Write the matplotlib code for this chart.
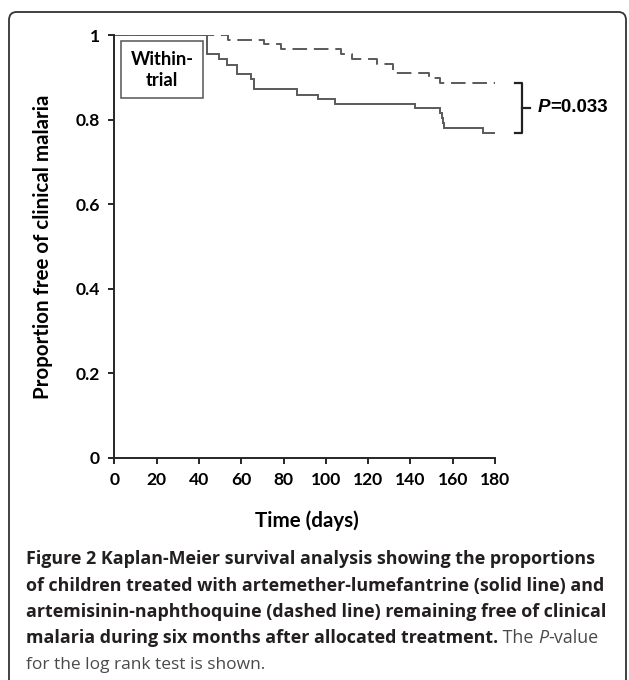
import matplotlib
matplotlib.use("Agg")
import matplotlib.pyplot as plt
from matplotlib.patches import FancyBboxPatch, Rectangle
from matplotlib.lines import Line2D

# ---------------- data ----------------
al_days = [0, 44, 49.5, 53.5, 57.8, 64.5, 66, 86.2, 96.3, 104.2, 142.2, 154.2, 154.8, 155.4, 156.1, 174.3, 180]
al_surv = [1.0, 0.955, 0.944, 0.930, 0.907, 0.895, 0.873, 0.859, 0.848, 0.837, 0.827, 0.815, 0.803, 0.791, 0.780, 0.769, 0.769]

an_days = [0, 53.6, 70.8, 78.6, 107.4, 112.5, 124.3, 132.0, 149.0, 154.2, 180]
an_surv = [1.0, 0.988, 0.978, 0.966, 0.955, 0.943, 0.932, 0.909, 0.898, 0.886, 0.886]

x_ticks = [0, 20, 40, 60, 80, 100, 120, 140, 160, 180]
y_ticks = [0, 0.2, 0.4, 0.6, 0.8, 1]
y_tick_labels = ["0", "0.2", "0.4", "0.6", "0.8", "1"]
p_value_text = "=0.033"
box_text = "Within-\ntrial"
x_label = "Time (days)"
y_label = "Proportion free of clinical malaria"

caption_bold = [
    "Figure 2 Kaplan-Meier survival analysis showing the proportions",
    "of children treated with artemether-lumefantrine (solid line) and",
    "artemisinin-naphthoquine (dashed line) remaining free of clinical",
    "malaria during six months after allocated treatment.",
]
caption_regular_line5 = "for the log rank test is shown."

# ---------------- figure ----------------
W, H = 629, 680
fig = plt.figure(figsize=(W / 100, H / 100), dpi=100)
fig.patch.set_facecolor("white")

AXFONT = "Lato"
CAPFONT = "Open Sans"
dark = "#262626"
curve = "#5a5a5a"

x0, x1 = 114.3, 495.0
y0, y1 = 35.0, 458.0
ax = fig.add_axes([x0 / W, 1 - y1 / H, (x1 - x0) / W, (y1 - y0) / H])
ax.set_xlim(0, 180)
ax.set_ylim(0, 1)

ax.step(al_days, al_surv, where="post", color=curve, lw=1.4, solid_joinstyle="miter")
ax.step(an_days, an_surv, where="post", color=curve, lw=1.4, linestyle=(0, (7.5, 3.5)))

for s in ["top", "right"]:
    ax.spines[s].set_visible(False)
for s in ["left", "bottom"]:
    ax.spines[s].set_color(dark)
    ax.spines[s].set_linewidth(1.4)

ax.set_xticks(x_ticks)
ax.set_xticklabels([str(v) for v in x_ticks])
ax.set_yticks(y_ticks)
ax.set_yticklabels(y_tick_labels)
ax.tick_params(axis="both", direction="out", length=4.5, width=1.4, color=dark,
               labelsize=12.6, labelcolor="black")
ax.tick_params(axis="y", pad=6)
ax.tick_params(axis="x", pad=5.5)
for lab in ax.get_xticklabels() + ax.get_yticklabels():
    lab.set_fontfamily(AXFONT)
    lab.set_fontweight("bold")

ax.set_xlabel(x_label, fontfamily=AXFONT, fontweight="bold", fontsize=14.8)
ax.set_ylabel(y_label, fontfamily=AXFONT, fontweight="bold", fontsize=14.8)
ax.xaxis.set_label_coords((306.5 - x0) / (x1 - x0), -(521 - y1) / (y1 - y0))
ax.xaxis.label.set_verticalalignment("center")
ax.yaxis.set_label_coords((43 - x0) / (x1 - x0), 0.5)
ax.yaxis.label.set_verticalalignment("center")

# Within-trial box
bx0, bx1, by0, by1 = 121, 202.7, 41, 98.3
ax.add_patch(Rectangle(((bx0 - x0) / (x1 - x0), 1 - (by1 - y0) / (y1 - y0)),
                       (bx1 - bx0) / (x1 - x0), (by1 - by0) / (y1 - y0),
                       transform=ax.transAxes, fill=True, fc="white", ec="#555555", lw=1.1))
ax.text(((bx0 + bx1) / 2 - x0) / (x1 - x0), 1 - (70 - y0) / (y1 - y0), box_text,
        transform=ax.transAxes, ha="center", va="center", fontfamily=AXFONT,
        fontweight="bold", fontsize=13.2, linespacing=1.3, color="black")

# bracket with P-value (data coordinates, outside axes)
top_v, bot_v = an_surv[-1], al_surv[-1]
mid_v = (top_v + bot_v) / 2
bxl, bxr, bxt = 189.3, 192.8, 196.5
ax.add_line(Line2D([bxl, bxr, bxr, bxl], [top_v, top_v, bot_v, bot_v], color="#222222",
                   lw=1.6, clip_on=False, solid_joinstyle="round"))
ax.add_line(Line2D([bxr, bxt], [mid_v, mid_v], color="#222222", lw=1.6, clip_on=False))
ptxt = ax.text(200.2, mid_v, "P", ha="left", va="center", fontfamily="Liberation Sans",
               fontweight="bold", fontstyle="italic", fontsize=13.5, color="black", clip_on=False)
ax.annotate(p_value_text, xy=(1, 0), xycoords=ptxt, ha="left", va="bottom",
            fontfamily="Liberation Sans", fontweight="bold", fontsize=13.5, color="black",
            annotation_clip=False)

# frame around figure (bottom cut off)
fig.add_artist(FancyBboxPatch((9 / W, -0.05), (626 - 9) / W, 1 - 12 / H + 0.05,
                              boxstyle="round,pad=0,rounding_size=0.012",
                              transform=fig.transFigure, fc="none", ec="#333333", lw=1.3))

# caption
cap_x = 26 / W
baselines = [564, 591, 617, 643, 669]
cap_size = 12.9
reg_size = 12.5
capdark = "#231f20"
capgray = "#4a4a4a"
last = None
for i, line in enumerate(caption_bold):
    t = fig.text(cap_x, 1 - baselines[i] / H, line, fontfamily=CAPFONT,
                 fontweight="bold", fontsize=cap_size, color=capdark, va="baseline")
    if i == 3:
        last = t
a = ax.annotate(" The ", xy=(1, 0), xycoords=last, ha="left", va="bottom",
                fontfamily=CAPFONT, fontweight="normal", fontsize=cap_size, color=capgray,
                annotation_clip=False)
b = ax.annotate("P", xy=(1, 0), xycoords=a, ha="left", va="bottom",
                fontfamily=CAPFONT, fontweight="normal", fontstyle="italic", fontsize=cap_size,
                color=capgray, annotation_clip=False)
ax.annotate("-value", xy=(1, 0), xycoords=b, ha="left", va="bottom",
            fontfamily=CAPFONT, fontweight="normal", fontsize=cap_size, color=capgray,
            annotation_clip=False)
fig.text(cap_x, 1 - baselines[4] / H, caption_regular_line5, fontfamily=CAPFONT,
         fontweight="normal", fontsize=reg_size, color=capgray, va="baseline")

fig.savefig("out.png", dpi=100, facecolor="white")
